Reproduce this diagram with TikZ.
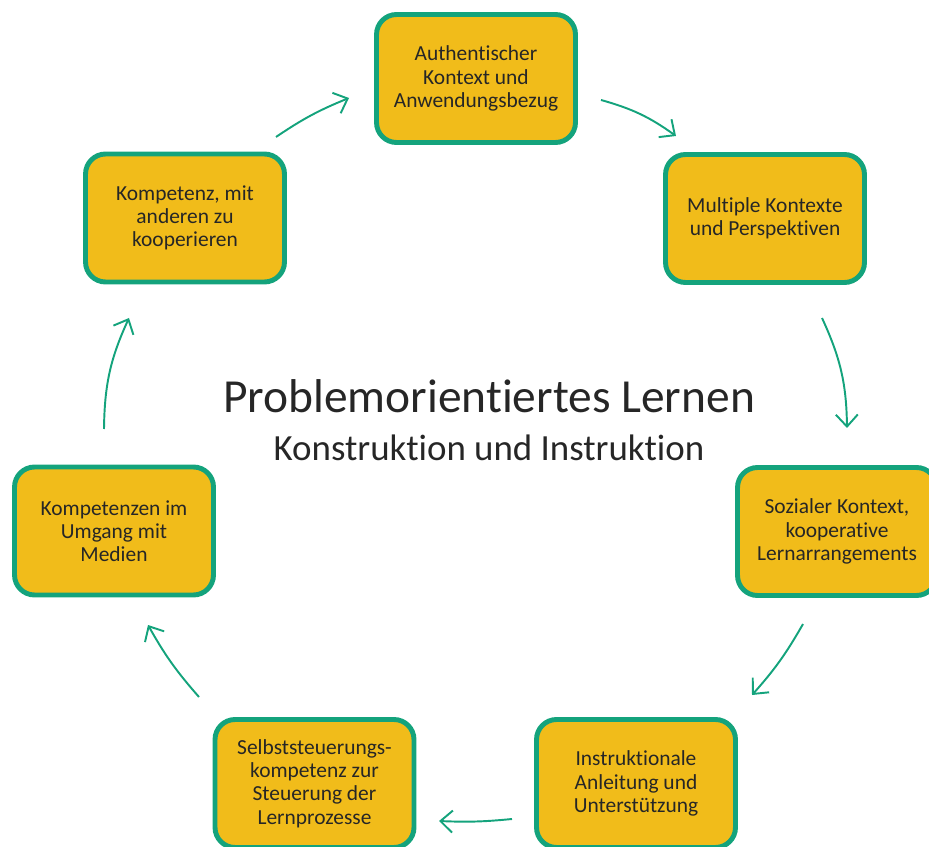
\documentclass[tikz,border=0pt]{standalone}
\usepackage{fontspec}
\setmainfont{Carlito}[Ligatures={NoCommon,NoContextual}]
\usepackage{xcolor}
\usepackage{tikz}
\usetikzlibrary{arrows.meta, positioning}
\definecolor{gold}{RGB}{241, 188, 26}
\definecolor{teal}{RGB}{20, 163, 124}
\definecolor{ink}{RGB}{38, 38, 38}
\tikzstyle{stage} = [rectangle, rounded corners=0.4cm, minimum width=3.98cm, minimum height=2.56cm, align=center, draw=teal, fill=gold, line width=2.8pt, text=ink, font=\fontsize{12.2}{13.2}\selectfont]
\tikzstyle{arrow} = [draw=teal, line width=1.1pt, -{Straight Barb[length=2.4mm, width=4.4mm]}]

\begin{document}
\begin{tikzpicture}[x=0.02cm, y=-0.02cm]
    \useasboundingbox (0, 0) rectangle (929, 847);

    % Title
    \node[font=\fontsize{27}{31}\selectfont, text=ink, anchor=base] (title) at (489, 413) {Problemorientiertes Lernen};
    \node[font=\fontsize{21}{25}\selectfont, text=ink, anchor=base] (subtitle) at (489, 460) {Konstruktion und Instruktion};

    % Stages
    \node[stage] (auth) at (476, 78.5) {Authentischer\\Kontext und\\Anwendungsbezug};
    \node[stage] (mult) at (765, 218.5) {Multiple Kontexte\\und Perspektiven};
    \node[stage] (soz) at (837, 531.5) {Sozialer Kontext,\\kooperative\\Lernarrangements};
    \node[stage] (instr) at (636, 783.5) {Instruktionale\\Anleitung und\\Unterstützung};
    \node[stage] (selbst) at (314.5, 783.5) {Selbststeuerungs-\\kompetenz zur\\Steuerung der\\Lernprozesse};
    \node[stage] (medien) at (114, 531) {Kompetenzen im\\Umgang mit\\Medien};
    \node[stage] (koop) at (185, 218) {Kompetenz, mit\\anderen zu\\kooperieren};

    % Arrow ends
    \coordinate (a1) at (601, 100);   \coordinate (b1) at (676, 136);
    \coordinate (a2) at (822, 318);   \coordinate (b2) at (847, 428);
    \coordinate (a3) at (803, 624);   \coordinate (b3) at (752, 695);
    \coordinate (a4) at (512, 819);   \coordinate (b4) at (439, 821);
    \coordinate (a5) at (199, 697);   \coordinate (b5) at (148, 625);
    \coordinate (a6) at (104, 429);   \coordinate (b6) at (129, 318);
    \coordinate (a7) at (276, 137);   \coordinate (b7) at (349, 98);

    % Arrows
    \draw[arrow] (a1) to[bend left=10] (b1);
    \draw[arrow] (a2) to[bend left=12] (b2);
    \draw[arrow] (a3) to[bend left=6] (b3);
    \draw[arrow] (a4) to[bend left=4] (b4);
    \draw[arrow] (a5) to[bend left=6] (b5);
    \draw[arrow] (a6) to[bend left=12] (b6);
    \draw[arrow] (a7) to[bend left=6] (b7);
\end{tikzpicture}
\end{document}
